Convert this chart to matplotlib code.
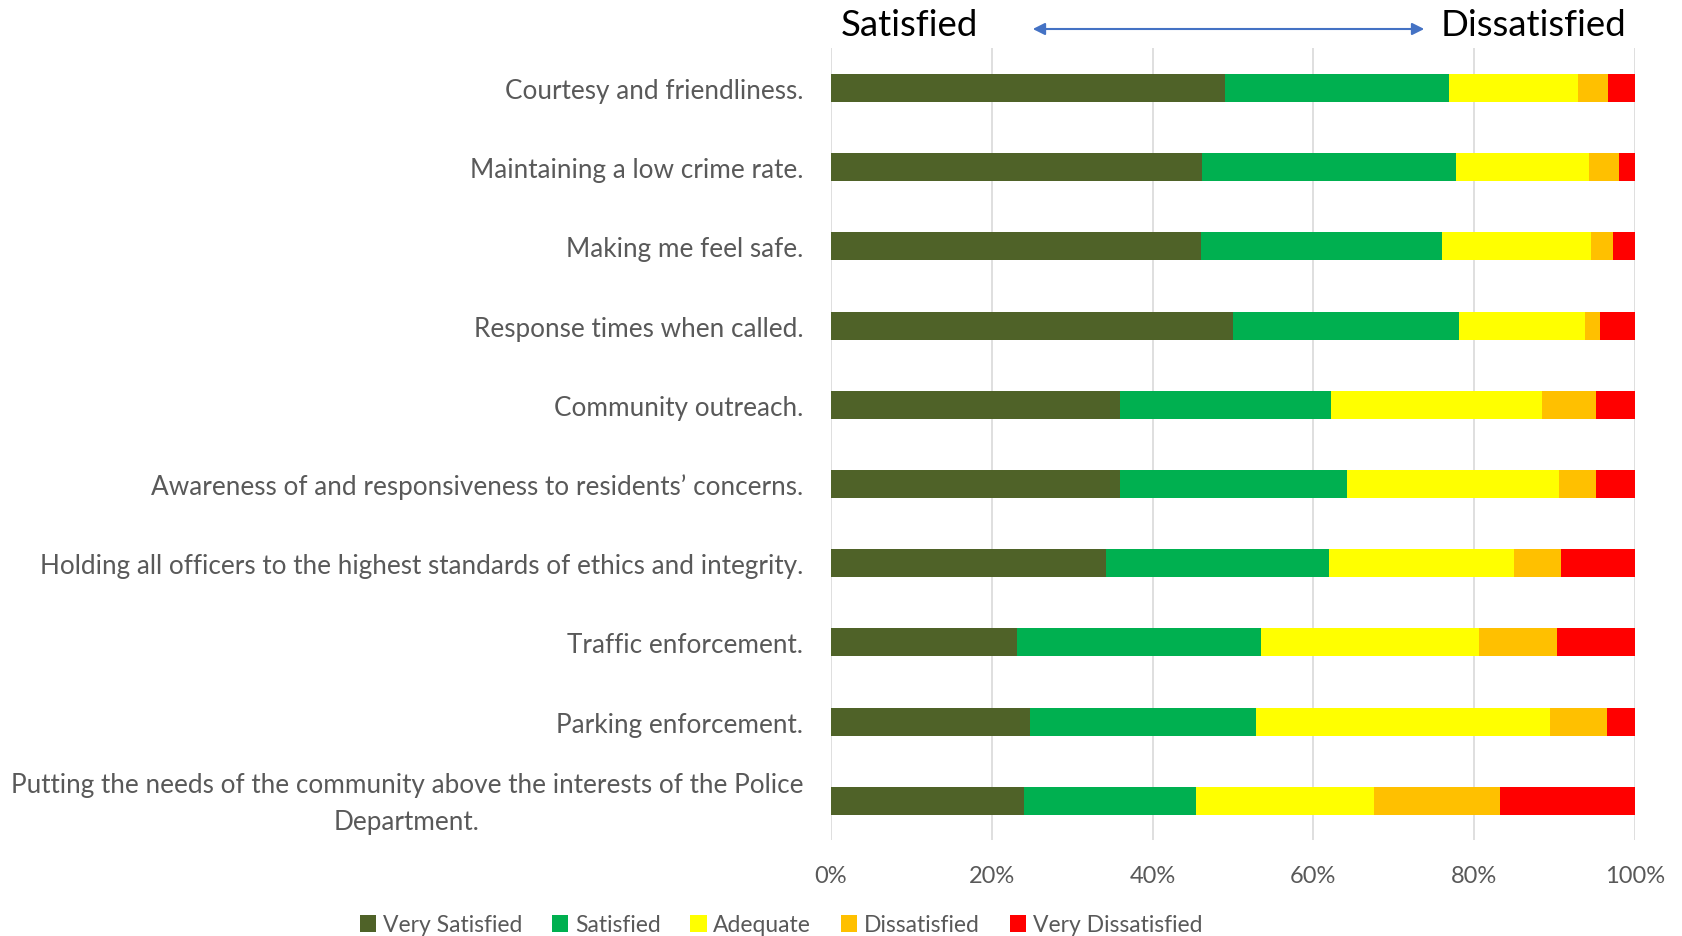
import numpy as np
import matplotlib.pyplot as plt
from matplotlib.transforms import ScaledTranslation

plt.rcParams["font.family"] = ["Lato", "DejaVu Sans"]

categories = [
    "Courtesy and friendliness.",
    "Maintaining a low crime rate.",
    "Making me feel safe.",
    "Response times when called.",
    "Community outreach.",
    "Awareness of and responsiveness to residents\u2019 concerns.",
    "Holding all officers to the highest standards of ethics and integrity.",
    "Traffic enforcement.",
    "Parking enforcement.",
    "Putting the needs of the community above the interests of the Police\nDepartment.",
]

very_satisfied = [49.0, 46.1, 46.0, 50.0, 36.0, 35.9, 34.2, 23.2, 24.8, 24.0]
satisfied = [27.9, 31.7, 30.0, 28.1, 26.2, 28.3, 27.7, 30.3, 28.1, 21.4]
adequate = [16.0, 16.5, 18.6, 15.7, 26.3, 26.4, 23.0, 27.1, 36.6, 22.2]
dissatisfied = [3.8, 3.7, 2.7, 1.9, 6.6, 4.5, 5.9, 9.7, 7.0, 15.6]
very_dissatisfied = [3.3, 2.0, 2.7, 4.3, 4.9, 4.9, 9.2, 9.7, 3.5, 16.8]

series = ["Very Satisfied", "Satisfied", "Adequate", "Dissatisfied", "Very Dissatisfied"]
colors = ["#4F6228", "#00B050", "#FFFF00", "#FFC000", "#FF0000"]

data = np.array([very_satisfied, satisfied, adequate, dissatisfied, very_dissatisfied])
data = data / data.sum(axis=0) * 100

fig = plt.figure(figsize=(16.82, 9.37), dpi=100)
ax = fig.add_axes([0.494, 0.1021, 0.478, 0.8452])

y = np.arange(len(categories))
left = np.zeros(len(categories))
for vals, name, c in zip(data, series, colors):
    ax.barh(y, vals, left=left, height=0.354, color=c, label=name, zorder=3)
    left += vals

ax.set_xlim(0, 100)
ax.set_ylim(len(categories) - 0.5, -0.5)
ax.set_xticks(np.arange(0, 101, 20))
ax.set_xticklabels(["%d%%" % v for v in range(0, 101, 20)])
ax.set_yticks(y)
ax.set_yticklabels(categories)
ax.tick_params(axis="both", length=0, labelsize=17, colors="#595959")
ax.tick_params(axis="y", labelsize=18.8, pad=20)
ax.tick_params(axis="x", pad=18)
for t in ax.get_yticklabels():
    t.set_multialignment("center")
    t.set_linespacing(1.6)
    if "\n" in t.get_text():
        t.set_transform(t.get_transform()
                        + ScaledTranslation(0, 6 / 100, fig.dpi_scale_trans))
ax.grid(axis="x", color="#D9D9D9", linewidth=1.2, zorder=0)
for s in ax.spines.values():
    s.set_visible(False)

# header with arrow
fig.text(841 / 1682, 1 - 26 / 937, "Satisfied", fontsize=26.4, color="black",
         ha="left", va="center")
fig.text(1441 / 1682, 1 - 26 / 937, "Dissatisfied", fontsize=26.4, color="black",
         ha="left", va="center")
fig.add_artist(plt.matplotlib.patches.FancyArrowPatch(
    (1030 / 1682, 1 - 30 / 937), (1427 / 1682, 1 - 30 / 937),
    transform=fig.transFigure, arrowstyle="<|-|>", mutation_scale=18,
    color="#4472C4", linewidth=1.5))

leg = fig.legend(loc="center", bbox_to_anchor=(781 / 1682, 1 - 926 / 937),
                 ncol=5, frameon=False, fontsize=16.5, handlelength=0.7,
                 handleheight=0.7, handletextpad=0.3, columnspacing=1.3,
                 labelcolor="#595959")

fig.savefig("out.png", dpi=100)
